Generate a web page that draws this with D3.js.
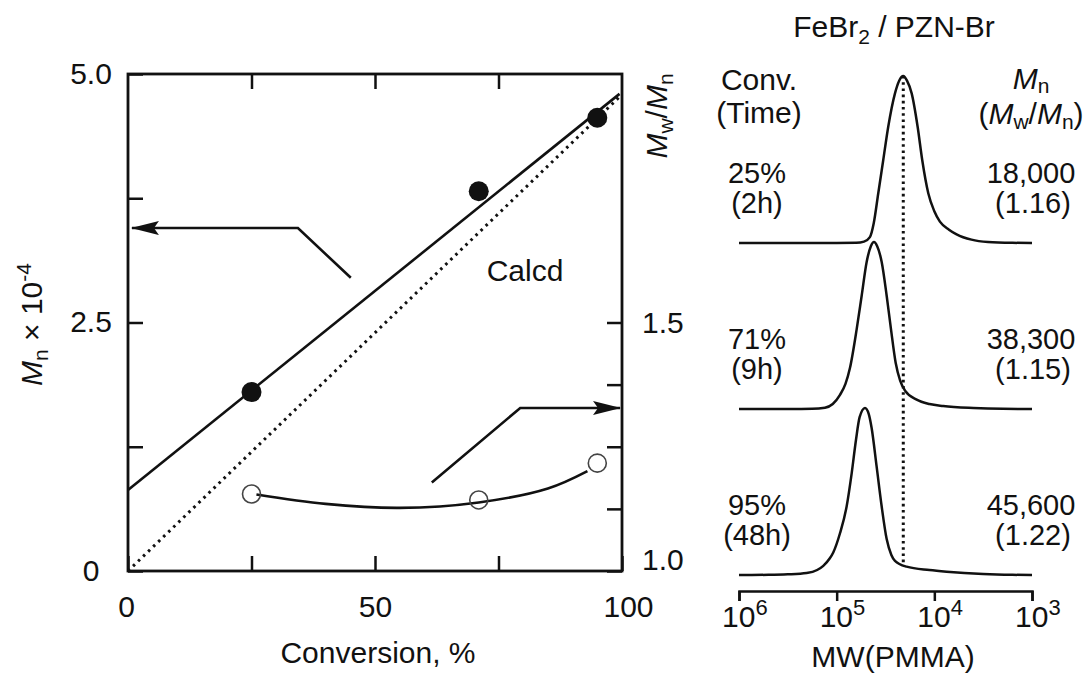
<!DOCTYPE html>
<html><head><meta charset="utf-8">
<script src="https://cdn.jsdelivr.net/npm/d3@7"></script>
<style>
body{margin:0;background:#fff;}
svg text{font-family:"Liberation Sans",Arial,Helvetica,sans-serif;fill:#111;}
</style></head><body>
<svg id="chart" width="1090" height="673"></svg>
<script>
// ---------------- data ----------------
const conversion = [25, 71, 95];                 // %
const mnValues = [1.80, 3.82, 4.56];             // Mn x 10^-4
const pdiValues = [1.155, 1.143, 1.217];         // Mw/Mn
const fitLine = [[0, 0.815], [99.5, 4.80]];
const calcdLine = [[0, 0], [99.5, 4.77]];
const pdiGuide = [[26,1.154],[40,1.135],[55,1.127],[71,1.138],[85,1.166],[93,1.201]];
const arrowLeft = [[45.1,2.95],[34.4,3.45],[0.8,3.45]];     // in (conv, Mn) units
const arrowRight = [[61.5,0.89],[79.4,1.64],[99.6,1.64]];   // in (conv, Mn) units
const calcdLabelPos = [72.6, 2.92];
const xTicks = [0, 25, 50, 75, 100];
const xTickLabels = [0, 50, 100];
const yLeftTicks = [0, 1.25, 2.5, 3.75, 5];
const yLeftLabels = {0: "0", 2.5: "2.5", 5: "5.0"};
const yRightTicks = [1, 1.125, 1.25, 1.375, 1.5];
const yRightLabels = {1: "1.0", 1.5: "1.5"};

// GPC traces: [log10 MW, relative intensity]
const samples = ["25%", "71%", "95%"];
const sampleTimes = ["(2h)", "(9h)", "(48h)"];
const sampleMn = ["18,000", "38,300", "45,600"];
const samplePdi = ["(1.16)", "(1.15)", "(1.22)"];
const trace25 = [[6.0,0],[5.5,0],[5.0,0],[4.80,0.001],[4.72,0.008],[4.66,0.035],[4.62,0.12],[4.574,0.298],[4.523,0.497],[4.472,0.696],[4.403,0.896],[4.36,0.972],[4.318,1.0],[4.28,0.972],[4.232,0.896],[4.171,0.696],[4.124,0.497],[4.062,0.298],[4.00,0.19],[3.943,0.128],[3.85,0.08],[3.772,0.052],[3.62,0.02],[3.45,0.006],[3.2,0.001],[3.0,0]];
const trace71 = [[6.0,0],[5.6,0],[5.25,0.001],[5.12,0.008],[5.04,0.03],[4.966,0.085],[4.91,0.15],[4.864,0.245],[4.795,0.478],[4.744,0.678],[4.693,0.880],[4.65,0.975],[4.618,1.0],[4.585,0.975],[4.539,0.880],[4.488,0.678],[4.444,0.478],[4.396,0.277],[4.35,0.17],[4.30,0.11],[4.181,0.056],[4.05,0.03],[3.909,0.018],[3.6,0.006],[3.3,0.001],[3.0,0]];
const trace95 = [[6.0,0],[5.7,0.001],[5.5,0.004],[5.307,0.012],[5.2,0.03],[5.137,0.055],[5.07,0.10],[5.035,0.135],[4.966,0.250],[4.898,0.410],[4.846,0.610],[4.802,0.810],[4.765,0.945],[4.710,1.0],[4.672,0.965],[4.642,0.880],[4.591,0.650],[4.539,0.410],[4.488,0.215],[4.44,0.12],[4.403,0.085],[4.284,0.050],[4.05,0.03],[3.874,0.020],[3.5,0.006],[3.2,0.001],[3.0,0]];
const traces = [trace25, trace71, trace95];
const refPeakLogMW = 4.318;
const mwTicks = [6, 5, 4, 3];   // exponents

// ---------------- drawing ----------------
const svg = d3.select("#chart");
const FS = 30, SUB = 21, FSV = 29;
const ink = "#111";

svg.append("defs").append("marker")
  .attr("id","ah").attr("markerUnits","userSpaceOnUse")
  .attr("viewBox","0 0 28 14").attr("markerWidth",28).attr("markerHeight",14)
  .attr("refX",27).attr("refY",7).attr("orient","auto")
  .append("path").attr("d","M0,0 L28,7 L0,14 L5,7 Z").attr("fill",ink);

// ---- left plot ----
const L = {left:128, right:622, top:74, bottom:571};
const x = d3.scaleLinear().domain([0,100]).range([L.left, L.right]);
const yL = d3.scaleLinear().domain([0,5]).range([L.bottom, L.top]);
const yR = d3.scaleLinear().domain([1,2]).range([L.bottom, L.top]);

const gL = svg.append("g");

function styleAxis(g){
  g.selectAll("path.domain").remove();
  g.selectAll(".tick line").attr("stroke",ink).attr("stroke-width",2.5);
  g.selectAll(".tick text").attr("font-size",FS).attr("fill",ink)
    .style("font-family","'Liberation Sans',Arial,sans-serif");
}

const axB = gL.append("g").attr("transform",`translate(0,${L.bottom})`)
  .call(d3.axisBottom(x).tickValues(xTicks).tickSizeInner(-15).tickSizeOuter(0).tickPadding(25)
    .tickFormat(d => xTickLabels.includes(d) ? d : ""));
styleAxis(axB);
axB.selectAll(".tick text").attr("dy","0.71em");
axB.selectAll(".tick text").filter(d=>d===100).attr("dx",6);
axB.selectAll(".tick text").filter(d=>d===0).attr("dx",-2);

const axT = gL.append("g").attr("transform",`translate(0,${L.top})`)
  .call(d3.axisTop(x).tickValues([25,50,75]).tickSizeInner(-15).tickSizeOuter(0).tickFormat(""));
styleAxis(axT);

const axLft = gL.append("g").attr("transform",`translate(${L.left},0)`)
  .call(d3.axisLeft(yL).tickValues(yLeftTicks).tickSizeInner(-15).tickSizeOuter(0).tickPadding(37)
    .tickFormat(d => yLeftLabels[d] || ""));
styleAxis(axLft);
axLft.selectAll(".tick text").attr("text-anchor","middle").attr("dy","0.30em");

const axRt = gL.append("g").attr("transform",`translate(${L.right},0)`)
  .call(d3.axisRight(yR).tickValues(yRightTicks).tickSizeInner(-15).tickSizeOuter(0).tickPadding(20)
    .tickFormat(d => yRightLabels[d] || ""));
styleAxis(axRt);
axRt.selectAll(".tick text").filter(d=>d===1).attr("dy","-0.05em");

// frame
gL.append("rect").attr("x",L.left).attr("y",L.top).attr("width",L.right-L.left).attr("height",L.bottom-L.top)
  .attr("fill","none").attr("stroke",ink).attr("stroke-width",2.8);

const lineL = d3.line().x(d=>x(d[0])).y(d=>yL(d[1]));
gL.append("path").attr("d",lineL(fitLine)).attr("fill","none").attr("stroke",ink).attr("stroke-width",2.6);
gL.append("path").attr("d",lineL(calcdLine)).attr("fill","none").attr("stroke",ink).attr("stroke-width",3)
  .attr("stroke-dasharray","2.6 4.4");

const lineR = d3.line().x(d=>x(d[0])).y(d=>yR(d[1])).curve(d3.curveCatmullRom.alpha(0.5));
gL.append("path").attr("d",lineR(pdiGuide)).attr("fill","none").attr("stroke",ink).attr("stroke-width",2.6);

gL.selectAll("circle.mn").data(conversion).join("circle").attr("class","mn")
  .attr("cx",d=>x(d)).attr("cy",(d,i)=>yL(mnValues[i])).attr("r",10).attr("fill",ink);
gL.selectAll("circle.pdi").data(conversion).join("circle").attr("class","pdi")
  .attr("cx",d=>x(d)).attr("cy",(d,i)=>yR(pdiValues[i])).attr("r",9)
  .attr("fill","#fff").attr("fill-opacity",0).attr("stroke","#444").attr("stroke-width",1.6);

const lineA = d3.line().x(d=>x(d[0])).y(d=>yL(d[1]));
gL.append("path").attr("d",lineA(arrowLeft)).attr("fill","none").attr("stroke",ink).attr("stroke-width",2.6).attr("marker-end","url(#ah)");
gL.append("path").attr("d",lineA(arrowRight)).attr("fill","none").attr("stroke",ink).attr("stroke-width",2.6).attr("marker-end","url(#ah)");

gL.append("text").attr("x",x(calcdLabelPos[0])).attr("y",yL(calcdLabelPos[1])).attr("font-size",FS).text("Calcd");

gL.append("text").attr("x",(L.left+L.right)/2+3).attr("y",663).attr("text-anchor","middle").attr("font-size",FS).text("Conversion, %");

// left y label
const ylab = gL.append("text").attr("transform",`translate(42,${(L.top+L.bottom)/2+2}) rotate(-90)`)
  .attr("text-anchor","middle").attr("font-size",FS);
ylab.append("tspan").attr("font-style","italic").text("M");
ylab.append("tspan").attr("font-size",SUB).attr("dy",6).text("n");
ylab.append("tspan").attr("dy",-6).text(" \u00D7 10");
ylab.append("tspan").attr("font-size",SUB).attr("dy",-11).text("-4");

// right y label
const yrlab = gL.append("text").attr("transform",`translate(667,116) rotate(-90)`)
  .attr("text-anchor","middle").attr("font-size",FS);
yrlab.append("tspan").attr("font-style","italic").text("M");
yrlab.append("tspan").attr("font-size",SUB).attr("dy",6).text("w");
yrlab.append("tspan").attr("dy",-6).text("/");
yrlab.append("tspan").attr("font-style","italic").text("M");
yrlab.append("tspan").attr("font-size",SUB).attr("dy",6).text("n");

// ---- right panel (GPC) ----
const xm = d3.scaleLog().domain([1e6,1e3]).range([739,1032]);
const yBase = d3.scalePoint().domain(samples).range([243,575]);
const hI = d3.scaleLinear().domain([0,1]).range([0,167]);
const gR = svg.append("g");

const trLine = d3.line().x(d=>xm(Math.pow(10,d[0]))).curve(d3.curveMonotoneX);
traces.forEach((t,i)=>{
  const b = yBase(samples[i]);
  gR.append("path").attr("d",trLine.y(d=>b-hI(d[1]))(t))
    .attr("fill","none").attr("stroke",ink).attr("stroke-width",2.5).attr("stroke-linejoin","round");
});

// dotted reference line through first peak
gR.append("line")
  .attr("x1",xm(Math.pow(10,refPeakLogMW))).attr("x2",xm(Math.pow(10,refPeakLogMW)))
  .attr("y1",yBase(samples[0])-hI(1)).attr("y2",yBase(samples[2])-hI(0.06))
  .attr("stroke",ink).attr("stroke-width",3).attr("stroke-dasharray","2.6 3.6");

// axis
const axM = gR.append("g").attr("transform","translate(0,591)")
  .call(d3.axisBottom(xm).tickValues(mwTicks.map(e=>Math.pow(10,e))).tickSize(10).tickFormat(""));
axM.select("path.domain").attr("stroke",ink).attr("stroke-width",2.5);
axM.selectAll(".tick line").attr("stroke",ink).attr("stroke-width",2.5);
mwTicks.forEach(e=>{
  const t = gR.append("text").attr("x",xm(Math.pow(10,e))-17).attr("y",627).attr("font-size",FS);
  t.append("tspan").text("10");
  t.append("tspan").attr("font-size",SUB+1).attr("dy",-12).text(e);
});
gR.append("text").attr("x",893).attr("y",667).attr("text-anchor","middle").attr("font-size",FS).text("MW(PMMA)");

// title
const ttl = gR.append("text").attr("x",894).attr("y",37).attr("text-anchor","middle").attr("font-size",FS);
ttl.append("tspan").text("FeBr");
ttl.append("tspan").attr("font-size",SUB).attr("dy",7).text("2");
ttl.append("tspan").attr("dy",-7).text(" / PZN-Br");

// column headers
const colL = 759, colR = 1031;
gR.append("text").attr("x",colL).attr("y",90).attr("text-anchor","middle").attr("font-size",FS).text("Conv.");
gR.append("text").attr("x",colL).attr("y",123).attr("text-anchor","middle").attr("font-size",FS).text("(Time)");
const h1 = gR.append("text").attr("x",colR).attr("y",89).attr("text-anchor","middle").attr("font-size",FS);
h1.append("tspan").attr("font-style","italic").text("M");
h1.append("tspan").attr("font-size",SUB).attr("dy",4).text("n");
const h2 = gR.append("text").attr("x",colR).attr("y",124).attr("text-anchor","middle").attr("font-size",FS);
h2.append("tspan").text("(");
h2.append("tspan").attr("font-style","italic").text("M");
h2.append("tspan").attr("font-size",SUB).attr("dy",5).text("w");
h2.append("tspan").attr("dy",-5).text("/");
h2.append("tspan").attr("font-style","italic").text("M");
h2.append("tspan").attr("font-size",SUB).attr("dy",5).text("n");
h2.append("tspan").attr("dy",-5).text(")");

samples.forEach((s,i)=>{
  const b = yBase(s);
  gR.append("text").attr("x",colL-2).attr("y",b-60).attr("text-anchor","middle").attr("font-size",FSV).text(s);
  gR.append("text").attr("x",colL-2).attr("y",b-30).attr("text-anchor","middle").attr("font-size",FSV).text(sampleTimes[i]);
  gR.append("text").attr("x",colR).attr("y",b-60).attr("text-anchor","middle").attr("font-size",FSV).text(sampleMn[i]);
  gR.append("text").attr("x",colR+2).attr("y",b-30).attr("text-anchor","middle").attr("font-size",FSV).text(samplePdi[i]);
});
</script>
</body></html>
